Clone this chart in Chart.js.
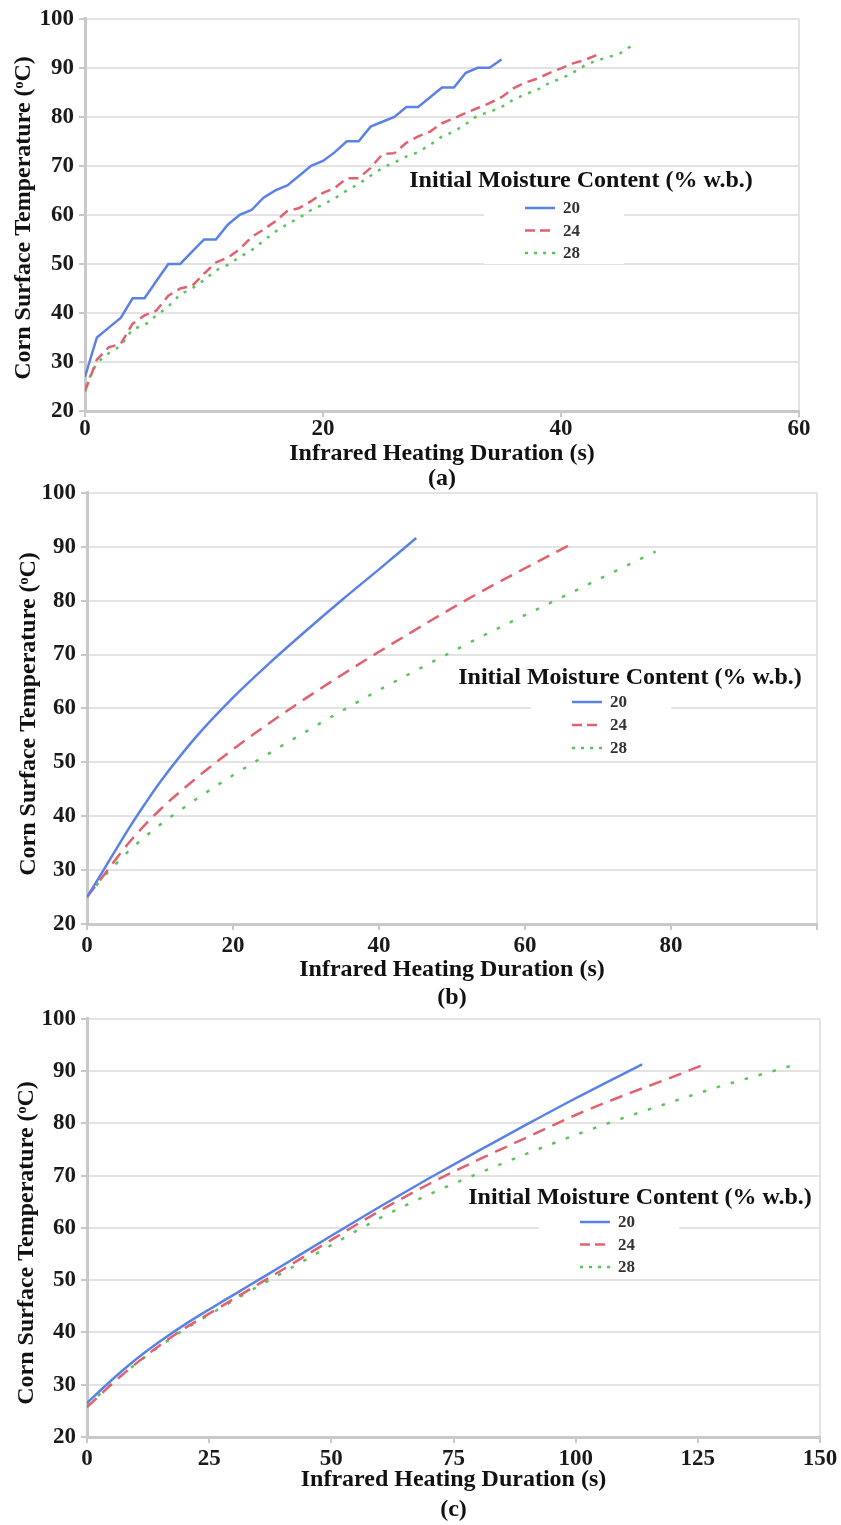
<!DOCTYPE html>
<html>
<head>
<meta charset="utf-8">
<script src="https://cdn.jsdelivr.net/npm/chart.js@4.4.1/dist/chart.umd.min.js"></script>
<style>
  html, body { margin: 0; padding: 0; background: #ffffff; }
  body { width: 841px; height: 1525px; position: relative; overflow: hidden; }
  .panel { position: absolute; left: 0; width: 841px; }
</style>
</head>
<body>
<div class="panel" style="top:0px;height:494px;"><canvas id="chartA" width="841" height="494"></canvas></div>
<div class="panel" style="top:474px;height:540px;"><canvas id="chartB" width="841" height="540"></canvas></div>
<div class="panel" style="top:1000px;height:525px;"><canvas id="chartC" width="841" height="525"></canvas></div>
<script>
// ---------- DATA ----------
const seriesLabels = ['20', '24', '28'];
const legendTitle = 'Initial Moisture Content (% w.b.)';
const yTitle = 'Corn Surface Temperature (ᵒC)';
const xTitle = 'Infrared Heating Duration (s)';
const panelLabels = ['(a)', '(b)', '(c)'];

// Panel (a): measured, 1 s steps (x = 0, 1, 2, ...)
const a20 = [27, 35, 37, 39, 43, 43, 46.5, 50, 50, 52.5, 55, 55, 58, 60, 61, 63.5, 65, 66, 68, 70, 71, 72.8, 75, 75, 78, 79, 80, 82, 82, 84, 86, 86, 89, 90, 90, 91.7];
const a24 = [24, 30.5, 33, 33.7, 37.8, 39.5, 40.5, 43.5, 45, 45.5, 48, 50.3, 51.3, 53, 55.5, 57, 58.7, 60.8, 61.4, 62.8, 64.5, 65.5, 67.5, 67.5, 69.6, 72.4, 72.6, 74.7, 76, 77, 78.7, 79.7, 80.8, 81.8, 82.8, 84, 85.8, 87, 87.8, 88.9, 89.9, 90.9, 91.6, 92.6];
const a28 = [25, 29.8, 31.8, 33.3, 36.7, 37.5, 39.5, 41.3, 43.8, 45, 46.7, 48.7, 49.8, 51.4, 52.8, 54.7, 56.6, 58.1, 59.4, 61, 62.1, 63.4, 65, 66.3, 68, 69.6, 70.7, 71.9, 72.8, 74.3, 76, 77, 78.5, 80.3, 81, 82, 83.5, 84.6, 85.5, 86.9, 87.8, 89, 90.5, 91.5, 92.2, 93, 94.6];

// Panel (b): predicted curves
const b20x = [0, 2, 4, 6, 8, 10, 15, 20, 25, 30, 35, 40, 45.1];
const b20y = [25, 29.4, 33.9, 38.3, 42.4, 46.3, 54.8, 62, 68.4, 74.4, 80.2, 85.8, 91.6];
const b24x = [0, 2, 4, 6, 10, 15, 20, 25, 30, 35, 40, 45, 50, 55, 60, 66.8];
const b24y = [25, 28.5, 32.1, 35.5, 41.2, 47.1, 52.4, 57.3, 61.9, 66.3, 70.5, 74.6, 78.6, 82.4, 86, 90.8];
const b28x = [0, 2, 4, 6, 10, 15, 20, 25, 30, 35, 40, 45, 50, 55, 60, 65, 70, 77.9];
const b28y = [25, 28.3, 31.2, 33.9, 38.4, 43.2, 47.6, 51.7, 55.7, 59.6, 63.4, 67, 70.5, 74, 77.3, 80.6, 83.9, 89.1];

// Panel (c): predicted curves
const c20x = [0, 4, 8, 12, 16, 20, 25, 30, 35, 40, 50, 60, 70, 80, 90, 100, 113.6];
const c20y = [26.5, 30, 33.3, 36.3, 39, 41.5, 44.4, 47.2, 50, 52.8, 58.5, 64.1, 69.5, 74.7, 79.8, 84.8, 91.3];
const c24x = [0, 4, 8, 12, 16, 20, 25, 30, 35, 40, 50, 60, 70, 80, 90, 100, 110, 118.8, 125.6];
const c24y = [25.7, 29.2, 32.5, 35.5, 38.3, 40.8, 43.6, 46.4, 49.2, 52, 57.7, 63.3, 68.4, 73, 77.3, 81.6, 85.4, 88.5, 91];
const c28x = [0, 4, 8, 12, 16, 20, 25, 30, 35, 40, 50, 60, 70, 80, 90, 100, 110, 120, 130, 140, 145.1];
const c28y = [26, 29.3, 32.5, 35.4, 38.1, 40.6, 43.4, 46.1, 48.8, 51.4, 56.7, 61.9, 66.4, 70.4, 74.2, 77.8, 81.1, 84.2, 87.2, 89.9, 91.3];

// x tick labels
const xTicksA = [0, 20, 40, 60];
const xTicksB = [0, 20, 40, 60, 80];
const xTicksC = [0, 25, 50, 75, 100, 125, 150];

// ---------- STYLE ----------
const SERIF = '"Liberation Serif", "Times New Roman", serif';
const COLORS = ['#5a82e6', '#e2616e', '#5cc45c'];
const GRID = '#e3e3e3';
const AXIS = '#c9c9c9';

function pts(xs, ys) { return xs.map((x, i) => ({x: x, y: ys[i]})); }
function steps(vals) { return vals.map((v, i) => ({x: i, y: v})); }

const legendPlugin = {
  id: 'innerLegend',
  afterDatasetsDraw(chart, args, opts) {
    const ctx = chart.ctx;
    ctx.save();
    const itemCx = opts.itemX;
    ctx.fillStyle = '#ffffff';
    ctx.fillRect(itemCx - 70, opts.itemY - 11, 140, opts.itemGap * 2 + 22);
    ctx.font = 'bold 24px ' + SERIF;
    ctx.fillStyle = '#111';
    ctx.textAlign = 'center';
    ctx.textBaseline = 'middle';
    ctx.fillText(legendTitle, opts.titleX, opts.titleY);
    chart.data.datasets.forEach((ds, i) => {
      const y = opts.itemY + i * opts.itemGap;
      ctx.beginPath();
      ctx.strokeStyle = ds.borderColor;
      ctx.lineWidth = 2.5;
      ctx.setLineDash(opts.dashes[i]);
      ctx.moveTo(itemCx - 29, y);
      ctx.lineTo(itemCx + 1, y);
      ctx.stroke();
      ctx.setLineDash([]);
      ctx.font = 'bold 17px ' + SERIF;
      ctx.fillStyle = '#333';
      ctx.textAlign = 'left';
      ctx.fillText(ds.label, itemCx + 9, y + 1);
    });
    ctx.restore();
  }
};

// y-axis title drawn at a given centre (rotated)
const yTitlePlugin = {
  id: 'yTitleText',
  afterDraw(chart, args, opts) {
    const ctx = chart.ctx;
    ctx.save();
    ctx.translate(opts.x, opts.y);
    ctx.rotate(-Math.PI / 2);
    ctx.font = 'bold 24px ' + SERIF;
    ctx.fillStyle = '#111';
    ctx.textAlign = 'center';
    ctx.textBaseline = 'middle';
    ctx.fillText(yTitle, 0, 0);
    ctx.restore();
  }
};

function makeChart(id, cfg) {
  const xMax = cfg.xMax;
  return new Chart(document.getElementById(id), {
    type: 'line',
    data: {
      datasets: cfg.data.map((d, i) => ({
        label: seriesLabels[i],
        data: d,
        borderColor: COLORS[i],
        backgroundColor: COLORS[i],
        borderWidth: 2.5,
        borderDash: cfg.dashes[i],
        pointRadius: 0,
        fill: false,
        tension: cfg.tension,
        cubicInterpolationMode: cfg.tension ? 'monotone' : 'default'
      }))
    },
    options: {
      responsive: false,
      animation: false,
      events: [],
      layout: { padding: { top: cfg.padTop, right: cfg.padRight, left: 0, bottom: 0 } },
      plugins: {
        legend: { display: false },
        tooltip: { enabled: false },
        innerLegend: cfg.legend,
        yTitleText: cfg.yTitlePos
      },
      scales: {
        x: {
          type: 'linear',
          min: 0, max: xMax,
          afterBuildTicks: (s) => { s.ticks = cfg.xTicksAll.map(v => ({value: v})); },
          afterFit: (s) => { s.height = cfg.xHeight; },
          ticks: {
            autoSkip: false,
            maxRotation: 0,
            padding: cfg.xTickPad,
            color: '#1a1a1a',
            font: { family: SERIF, size: 23, weight: 'bold' },
            callback: (v) => cfg.xTicks.includes(v) ? String(v) : ''
          },
          grid: {
            color: (c) => (c.tick && c.tick.value === xMax) ? GRID : 'rgba(0,0,0,0)',
            lineWidth: 2,
            tickColor: AXIS,
            tickLength: 6,
            drawTicks: true
          },
          border: { display: true, color: AXIS, width: 3 },
          title: {
            display: true,
            text: [xTitle, cfg.panelLabel],
            color: '#111',
            font: { family: SERIF, size: 24, weight: 'bold', lineHeight: cfg.xTitleLH },
            padding: { top: 0, bottom: cfg.xTitlePadBottom }
          }
        },
        y: {
          min: 20, max: 100,
          afterFit: (s) => { s.width = cfg.yWidth; },
          ticks: {
            stepSize: 10,
            padding: 5,
            color: '#1a1a1a',
            font: { family: SERIF, size: 23, weight: 'bold' }
          },
          grid: {
            color: GRID,
            lineWidth: 2,
            tickColor: AXIS,
            tickLength: 6
          },
          border: { display: true, color: AXIS, width: 3 },
          title: { display: false }
        }
      }
    },
    plugins: [legendPlugin, yTitlePlugin]
  });
}

makeChart('chartA', {
  data: [steps(a20), steps(a24), steps(a28)],
  dashes: [[], [10, 6], [3, 7]],
  tension: 0,
  xMax: 60, xTicks: xTicksA, xTicksAll: xTicksA,
  padTop: 17, padRight: 42, yWidth: 85, xHeight: 494 - 411,
  xTickPad: -2, xTitlePadBottom: 2.5, xTitleLH: 25 / 24,
  yTitlePos: { x: 24, y: 218 },
  panelLabel: panelLabels[0],
  legend: { titleX: 581, titleY: 181, itemX: 554, itemY: 208, itemGap: 22.5, dashes: [[], [10, 5], [3, 6]] }
});

makeChart('chartB', {
  data: [pts(b20x, b20y), pts(b24x, b24y), pts(b28x, b28y)],
  dashes: [[], [13, 8], [3.5, 11]],
  tension: 0.4,
  xMax: 100, xTicks: xTicksB, xTicksAll: [0, 20, 40, 60, 80, 100],
  padTop: 17, padRight: 24, yWidth: 87, xHeight: 540 - 450,
  xTickPad: 2, xTitlePadBottom: 2, xTitleLH: 28 / 24,
  yTitlePos: { x: 29, y: 714 - 474 },
  panelLabel: panelLabels[1],
  legend: { titleX: 630, titleY: 678 - 474, itemX: 601, itemY: 702 - 474, itemGap: 23, dashes: [[], [10, 5], [3, 6]] }
});

makeChart('chartC', {
  data: [pts(c20x, c20y), pts(c24x, c24y), pts(c28x, c28y)],
  dashes: [[], [13, 8], [3.5, 11]],
  tension: 0.4,
  xMax: 150, xTicks: xTicksC, xTicksAll: xTicksC,
  padTop: 16, padRight: 21, yWidth: 87, xHeight: 525 - 437,
  xTickPad: 2, xTitlePadBottom: 0, xTitleLH: 30 / 24,
  yTitlePos: { x: 27, y: 1243 - 1000 },
  panelLabel: panelLabels[2],
  legend: { titleX: 640, titleY: 1198 - 1000, itemX: 609, itemY: 1222 - 1000, itemGap: 22.5, dashes: [[], [10, 5], [3, 6]] }
});
</script>
</body>
</html>
